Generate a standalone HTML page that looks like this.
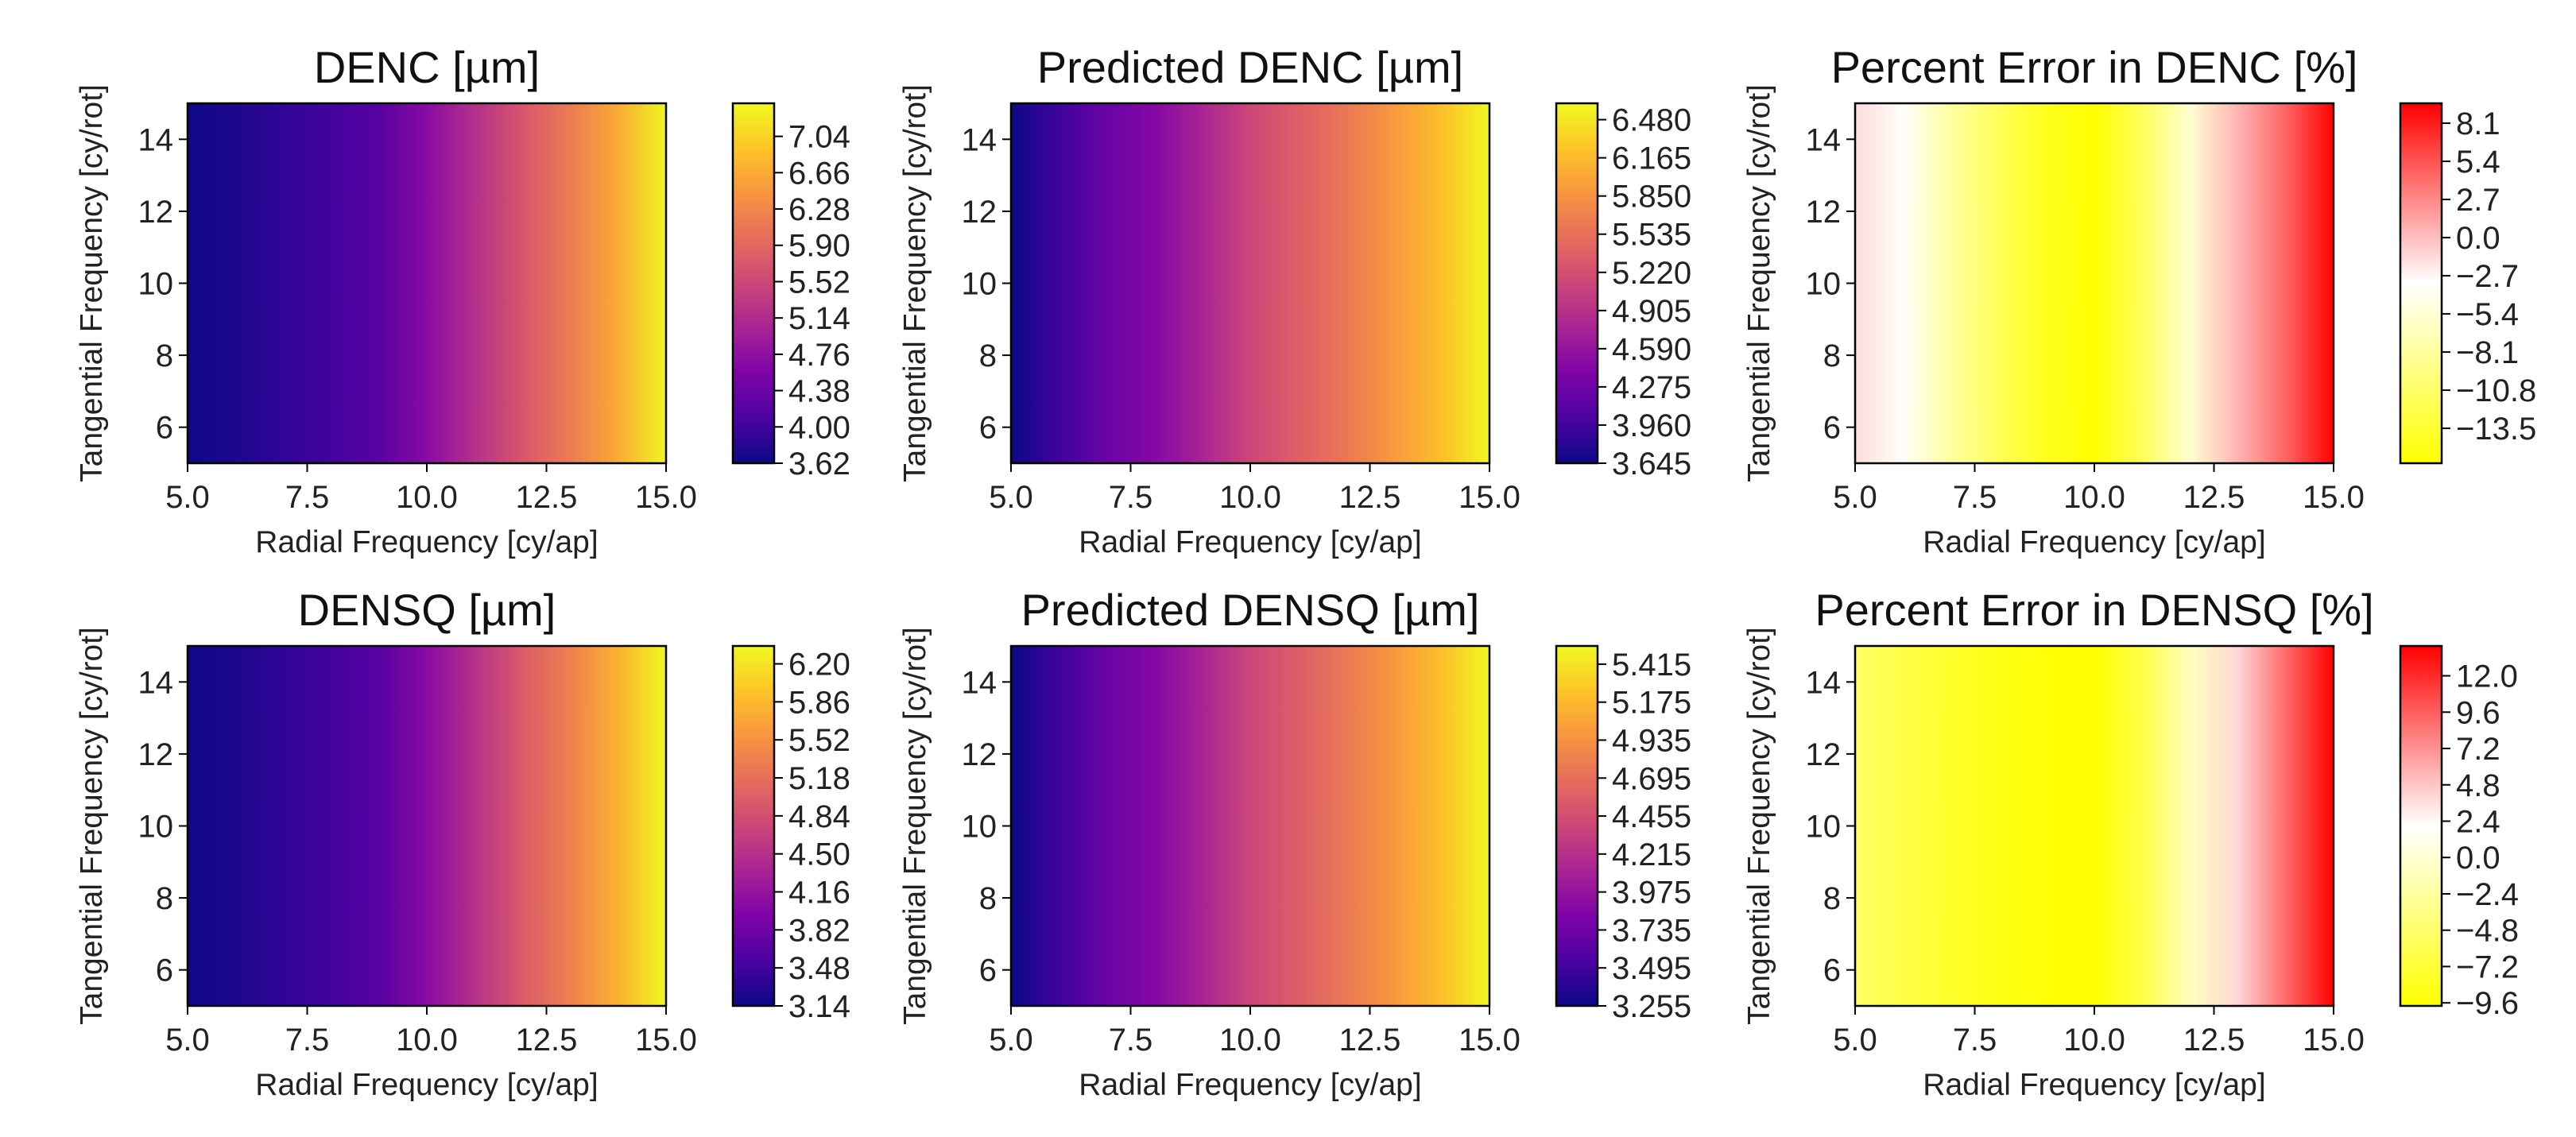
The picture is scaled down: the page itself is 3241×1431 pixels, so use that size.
<!DOCTYPE html>
<html><head><meta charset="utf-8"><style>
html,body{margin:0;padding:0;background:#fff;}
svg{display:block;font-family:"Liberation Sans","DejaVu Sans",sans-serif;}
</style></head><body>
<svg id="fig" width="3241" height="1431" viewBox="0 0 3241 1431" xmlns="http://www.w3.org/2000/svg"></svg>
<script>
// Data: values by radial frequency (x = 5..15 step 1); constant in tangential frequency
const xCols = [5,6,7,8,9,10,11,12,13,14,15];
const dencValues = [3.62,3.75,3.88,4.02,4.20,4.68,5.20,5.70,6.15,6.65,7.38];
const predDencValues = [3.645,3.94,4.24,4.45,4.77,5.13,5.37,5.60,5.90,6.20,6.615];
const errDencValues = [-1.5,-3.5,-8.0,-11.5,-14.5,-15.9,-11.5,-5.5,0.5,4.5,9.5];
const densqValues = [3.14,3.25,3.36,3.48,3.63,4.05,4.50,4.97,5.35,5.80,6.36];
const predDensqValues = [3.255,3.48,3.71,3.87,4.11,4.39,4.57,4.76,4.98,5.21,5.53];
const errDensqValues = [-5.0,-6.5,-7.8,-8.8,-9.5,-9.8,-6.5,-1.0,4.0,9.0,14.0];
const xTickLabels = ["5.0","7.5","10.0","12.5","15.0"];
const xTickVals = [5,7.5,10,12.5,15];
const yTickVals = [6,8,10,12,14];
const cbTicksDenc = ["3.62","4.00","4.38","4.76","5.14","5.52","5.90","6.28","6.66","7.04"];
const cbTicksPredDenc = ["3.645","3.960","4.275","4.590","4.905","5.220","5.535","5.850","6.165","6.480"];
const cbTicksErrDenc = ["−13.5","−10.8","−8.1","−5.4","−2.7","0.0","2.7","5.4","8.1"];
const cbTicksDensq = ["3.14","3.48","3.82","4.16","4.50","4.84","5.18","5.52","5.86","6.20"];
const cbTicksPredDensq = ["3.255","3.495","3.735","3.975","4.215","4.455","4.695","4.935","5.175","5.415"];
const cbTicksErrDensq = ["−9.6","−7.2","−4.8","−2.4","0.0","2.4","4.8","7.2","9.6","12.0"];

const plasma = ["#0d0887","#4c02a1","#7e03a8","#a92395","#cc4778","#e66c5c","#f89540","#fdc527","#f0f921"];
const ywr = ["#ffff00","#ffffff","#ff0000"];
function hex(c){return [parseInt(c.slice(1,3),16),parseInt(c.slice(3,5),16),parseInt(c.slice(5,7),16)];}
function cmap(stops,t){t=Math.max(0,Math.min(1,t));const n=stops.length-1;const i=Math.min(n-1,Math.floor(t*n));const f=t*n-i;
  const a=hex(stops[i]),b=hex(stops[i+1]);return "rgb("+a.map((v,k)=>Math.round(v+(b[k]-v)*f)).join(",")+")";}

const NS="http://www.w3.org/2000/svg";
const svgRoot=document.getElementById('fig');
function el(tag,attrs,parent,text){const e=document.createElementNS(NS,tag);for(const k in attrs)e.setAttribute(k,attrs[k]);if(text!==undefined)e.textContent=text;(parent||svgRoot).appendChild(e);return e;}
let gid=0;
function panel(cfg){
  const {px,py,title,values,stops,vmin,vmax,ticks,name}=cfg;
  const W=602,H=453,cbx=px+686,cbw=52;
  const g=el('g',{},svgRoot);
  
  
  const sx=v=>px+(v-5)/10*W, sy=v=>py+H-(v-5)/10*H;
  const gradId='g'+(gid++);
  const defs=el('defs',{},g);
  const lg=el('linearGradient',{id:gradId,x1:0,y1:0,x2:1,y2:0},defs);
  values.forEach((v,i)=>{el('stop',{offset:((xCols[i]-5)/10).toFixed(4),'stop-color':cmap(stops,(v-vmin)/(vmax-vmin))},lg);});
  const hm=el('rect',{x:sx(5),y:sy(15),width:sx(15)-sx(5),height:sy(5)-sy(15),fill:'url(#'+gradId+')'},g);
  
  
  const fr=el('rect',{x:px,y:py,width:W,height:H,fill:'none',stroke:'#000','stroke-width':2.5},g);
  
  
  xTickVals.forEach((v,i)=>{const x=sx(v);el('line',{x1:x,y1:py+H,x2:x,y2:py+H+11,stroke:'#000','stroke-width':2},g);
    const t=el('text',{x:x,y:py+H+56,'font-size':40,'text-anchor':'middle',fill:'#222'},g,xTickLabels[i]);
    
    });
  yTickVals.forEach(v=>{const y=sy(v);el('line',{x1:px-11,y1:y,x2:px,y2:y,stroke:'#000','stroke-width':2},g);
    const t=el('text',{x:px-18,y:y+14,'font-size':40,'text-anchor':'end',fill:'#222'},g,String(v));
    
    });
  const tt=el('text',{x:px+W/2,y:py-26,'font-size':56,'text-anchor':'middle',fill:'#111'},g,title);
  
  
  const xl=el('text',{x:px+W/2,y:py+H+112,'font-size':39,'text-anchor':'middle',fill:'#222'},g,'Radial Frequency [cy/ap]');
  
  
  const yl=el('text',{x:0,y:0,'font-size':39,'text-anchor':'middle',fill:'#222',transform:'translate('+(px-108)+','+(py+H/2)+') rotate(-90)'},g,'Tangential Frequency [cy/rot]');
  
  
  const cgid='c'+(gid++);
  const cl=el('linearGradient',{id:cgid,x1:0,y1:1,x2:0,y2:0},defs);
  for(let i=0;i<=40;i++){el('stop',{offset:i/40,'stop-color':cmap(stops,i/40)},cl);}
  const cb=el('rect',{x:cbx,y:py,width:cbw,height:H,fill:'url(#'+cgid+')',stroke:'#000','stroke-width':2.5},g);
  
  
  ticks.forEach(lbl=>{const v=parseFloat(lbl.replace('−','-'));const y=py+H-(v-vmin)/(vmax-vmin)*H;
    el('line',{x1:cbx+cbw,y1:y,x2:cbx+cbw+11,y2:y,stroke:'#000','stroke-width':2},g);
    const t=el('text',{x:cbx+cbw+18,y:y+14,'font-size':40,fill:'#222'},g,lbl);
    
    });
}
const rowTop=130,rowBot=813;
panel({px:236,py:rowTop,title:'DENC [µm]',values:dencValues,stops:plasma,vmin:3.62,vmax:7.386,ticks:cbTicksDenc,name:'denc'});
panel({px:1272,py:rowTop,title:'Predicted DENC [µm]',values:predDencValues,stops:plasma,vmin:3.645,vmax:6.615,ticks:cbTicksPredDenc,name:'predicted-denc'});
panel({px:2334,py:rowTop,title:'Percent Error in DENC [%]',values:errDencValues,stops:ywr,vmin:-15.97,vmax:9.51,ticks:cbTicksErrDenc,name:'error-denc'});
panel({px:236,py:rowBot,title:'DENSQ [µm]',values:densqValues,stops:plasma,vmin:3.14,vmax:6.36,ticks:cbTicksDensq,name:'densq'});
panel({px:1272,py:rowBot,title:'Predicted DENSQ [µm]',values:predDensqValues,stops:plasma,vmin:3.255,vmax:5.53,ticks:cbTicksPredDensq,name:'predicted-densq'});
panel({px:2334,py:rowBot,title:'Percent Error in DENSQ [%]',values:errDensqValues,stops:ywr,vmin:-9.8,vmax:13.97,ticks:cbTicksErrDensq,name:'error-densq'});
</script>
</body></html>
